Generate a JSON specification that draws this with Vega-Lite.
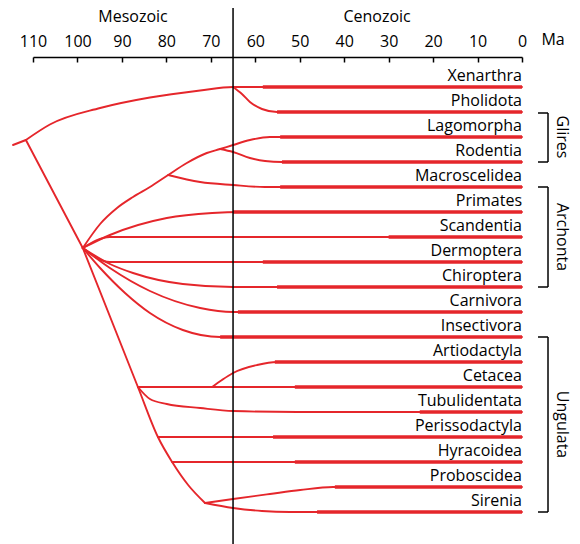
{
  "$schema": "https://vega.github.io/schema/vega-lite/v6.json",
  "width": 489,
  "height": 487,
  "autosize": "none",
  "padding": {"left": 33, "top": 57, "right": 58, "bottom": 0},
  "background": "white",
  "config": {"view": {"stroke": null}, "font": "Open Sans"},
  "datasets": {
    "branches": [
      {"b": "stem", "o": 1, "ma": 114.5, "r": 2.32}, {"b": "stem", "o": 2, "ma": 111.6, "r": 2.12},
      {"b": "xen", "o": 1, "ma": 111.6, "r": 2.12}, {"b": "xen", "o": 2, "ma": 106.2, "r": 1.5}, {"b": "xen", "o": 3, "ma": 94.9, "r": 0.84}, {"b": "xen", "o": 4, "ma": 83.7, "r": 0.42}, {"b": "xen", "o": 5, "ma": 72.4, "r": 0.14}, {"b": "xen", "o": 6, "ma": 65, "r": 0}, {"b": "xen", "o": 7, "ma": 0, "r": 0},
      {"b": "phol", "o": 1, "ma": 65, "r": 0}, {"b": "phol", "o": 2, "ma": 63, "r": 0.28}, {"b": "phol", "o": 3, "ma": 61.2, "r": 0.6}, {"b": "phol", "o": 4, "ma": 58.5, "r": 0.88}, {"b": "phol", "o": 5, "ma": 55.1, "r": 1}, {"b": "phol", "o": 6, "ma": 0, "r": 1},
      {"b": "B", "o": 1, "ma": 111.6, "r": 2.12}, {"b": "B", "o": 2, "ma": 98.8, "r": 6.44},
      {"b": "CD", "o": 1, "ma": 98.8, "r": 6.44}, {"b": "CD", "o": 2, "ma": 86.4, "r": 12}, {"b": "CD", "o": 3, "ma": 81.9, "r": 14}, {"b": "CD", "o": 4, "ma": 78.7, "r": 15}, {"b": "CD", "o": 5, "ma": 75.1, "r": 15.92}, {"b": "CD", "o": 6, "ma": 71.3, "r": 16.64},
      {"b": "cet", "o": 1, "ma": 86.4, "r": 12}, {"b": "cet", "o": 2, "ma": 0, "r": 12},
      {"b": "tub", "o": 1, "ma": 86.4, "r": 12}, {"b": "tub", "o": 2, "ma": 83.7, "r": 12.48}, {"b": "tub", "o": 3, "ma": 79.9, "r": 12.68}, {"b": "tub", "o": 4, "ma": 72.4, "r": 12.84}, {"b": "tub", "o": 5, "ma": 65, "r": 12.96}, {"b": "tub", "o": 6, "ma": 50.6, "r": 13}, {"b": "tub", "o": 7, "ma": 0, "r": 13},
      {"b": "art", "o": 1, "ma": 69.7, "r": 12}, {"b": "art", "o": 2, "ma": 67.5, "r": 11.72}, {"b": "art", "o": 3, "ma": 65, "r": 11.44}, {"b": "art", "o": 4, "ma": 59.6, "r": 11.12}, {"b": "art", "o": 5, "ma": 55.1, "r": 11}, {"b": "art", "o": 6, "ma": 0, "r": 11},
      {"b": "per", "o": 1, "ma": 81.9, "r": 14}, {"b": "per", "o": 2, "ma": 0, "r": 14},
      {"b": "hyr", "o": 1, "ma": 78.7, "r": 15}, {"b": "hyr", "o": 2, "ma": 0, "r": 15},
      {"b": "pro", "o": 1, "ma": 71.3, "r": 16.64}, {"b": "pro", "o": 2, "ma": 65, "r": 16.48}, {"b": "pro", "o": 3, "ma": 56.7, "r": 16.28}, {"b": "pro", "o": 4, "ma": 49.9, "r": 16.12}, {"b": "pro", "o": 5, "ma": 42.5, "r": 16}, {"b": "pro", "o": 6, "ma": 0, "r": 16},
      {"b": "sir", "o": 1, "ma": 71.3, "r": 16.64}, {"b": "sir", "o": 2, "ma": 65, "r": 16.84}, {"b": "sir", "o": 3, "ma": 58.5, "r": 16.96}, {"b": "sir", "o": 4, "ma": 52.2, "r": 17}, {"b": "sir", "o": 5, "ma": 0, "r": 17},
      {"b": "ins", "o": 1, "ma": 98.8, "r": 6.44}, {"b": "ins", "o": 2, "ma": 94.9, "r": 7.24}, {"b": "ins", "o": 3, "ma": 89.3, "r": 8.24}, {"b": "ins", "o": 4, "ma": 83.7, "r": 9.04}, {"b": "ins", "o": 5, "ma": 76.3, "r": 9.72}, {"b": "ins", "o": 6, "ma": 67.9, "r": 10}, {"b": "ins", "o": 7, "ma": 0, "r": 10},
      {"b": "car", "o": 1, "ma": 98.8, "r": 6.44}, {"b": "car", "o": 2, "ma": 92.7, "r": 7.24}, {"b": "car", "o": 3, "ma": 83.7, "r": 8.16}, {"b": "car", "o": 4, "ma": 72.4, "r": 8.84}, {"b": "car", "o": 5, "ma": 65, "r": 9}, {"b": "car", "o": 6, "ma": 0, "r": 9},
      {"b": "chi", "o": 1, "ma": 98.8, "r": 6.44}, {"b": "chi", "o": 2, "ma": 92.7, "r": 7.08}, {"b": "chi", "o": 3, "ma": 87.5, "r": 7.44}, {"b": "chi", "o": 4, "ma": 76.3, "r": 7.88}, {"b": "chi", "o": 5, "ma": 65, "r": 8}, {"b": "chi", "o": 6, "ma": 0, "r": 8},
      {"b": "der", "o": 1, "ma": 98.8, "r": 6.44}, {"b": "der", "o": 2, "ma": 92.7, "r": 7}, {"b": "der", "o": 3, "ma": 0, "r": 7},
      {"b": "sca", "o": 1, "ma": 98.8, "r": 6.44}, {"b": "sca", "o": 2, "ma": 92.7, "r": 6}, {"b": "sca", "o": 3, "ma": 0, "r": 6},
      {"b": "pri", "o": 1, "ma": 98.8, "r": 6.44}, {"b": "pri", "o": 2, "ma": 92.7, "r": 5.92}, {"b": "pri", "o": 3, "ma": 79.9, "r": 5.24}, {"b": "pri", "o": 4, "ma": 69.7, "r": 5.04}, {"b": "pri", "o": 5, "ma": 63, "r": 5}, {"b": "pri", "o": 6, "ma": 0, "r": 5},
      {"b": "lag", "o": 1, "ma": 98.8, "r": 6.44}, {"b": "lag", "o": 2, "ma": 94.9, "r": 5.48}, {"b": "lag", "o": 3, "ma": 91.1, "r": 4.84}, {"b": "lag", "o": 4, "ma": 87.5, "r": 4.4}, {"b": "lag", "o": 5, "ma": 83.7, "r": 4}, {"b": "lag", "o": 6, "ma": 79.6, "r": 3.52}, {"b": "lag", "o": 7, "ma": 75.4, "r": 3.04}, {"b": "lag", "o": 8, "ma": 70.9, "r": 2.64}, {"b": "lag", "o": 9, "ma": 67.9, "r": 2.48}, {"b": "lag", "o": 10, "ma": 65, "r": 2.32}, {"b": "lag", "o": 11, "ma": 61.2, "r": 2.12}, {"b": "lag", "o": 12, "ma": 56.7, "r": 2}, {"b": "lag", "o": 13, "ma": 0, "r": 2},
      {"b": "rod", "o": 1, "ma": 67.9, "r": 2.48}, {"b": "rod", "o": 2, "ma": 65, "r": 2.6}, {"b": "rod", "o": 3, "ma": 61.2, "r": 2.84}, {"b": "rod", "o": 4, "ma": 57.8, "r": 2.96}, {"b": "rod", "o": 5, "ma": 54, "r": 3}, {"b": "rod", "o": 6, "ma": 0, "r": 3},
      {"b": "mac", "o": 1, "ma": 79.6, "r": 3.52}, {"b": "mac", "o": 2, "ma": 72.4, "r": 3.8}, {"b": "mac", "o": 3, "ma": 65, "r": 3.92}, {"b": "mac", "o": 4, "ma": 57.8, "r": 4}, {"b": "mac", "o": 5, "ma": 0, "r": 4}
    ],
    "taxa": [
      {"name": "Xenarthra", "r": 0, "ma": 58.3},
      {"name": "Pholidota", "r": 1, "ma": 55.1},
      {"name": "Lagomorpha", "r": 2, "ma": 54.4},
      {"name": "Rodentia", "r": 3, "ma": 54},
      {"name": "Macroscelidea", "r": 4, "ma": 54.4},
      {"name": "Primates", "r": 5, "ma": 65},
      {"name": "Scandentia", "r": 6, "ma": 30},
      {"name": "Dermoptera", "r": 7, "ma": 58.3},
      {"name": "Chiroptera", "r": 8, "ma": 55.1},
      {"name": "Carnivora", "r": 9, "ma": 63.9},
      {"name": "Insectivora", "r": 10, "ma": 67.9},
      {"name": "Artiodactyla", "r": 11, "ma": 55.6},
      {"name": "Cetacea", "r": 12, "ma": 51.1},
      {"name": "Tubulidentata", "r": 13, "ma": 23},
      {"name": "Perissodactyla", "r": 14, "ma": 56},
      {"name": "Hyracoidea", "r": 15, "ma": 51.1},
      {"name": "Proboscidea", "r": 16, "ma": 42.1},
      {"name": "Sirenia", "r": 17, "ma": 46.1}
    ],
    "groups": [
      {"name": "Glires", "top": 1.04, "bottom": 3, "mid": 2},
      {"name": "Archonta", "top": 4, "bottom": 8, "mid": 6},
      {"name": "Ungulata", "top": 10, "bottom": 17, "mid": 13.5}
    ],
    "eras": [
      {"name": "Mesozoic", "ma": 87.5, "r": -2.8},
      {"name": "Cenozoic", "ma": 32.6, "r": -2.8},
      {"name": "Ma", "ma": -7, "r": -1.88}
    ],
    "boundary": [{"ma": 65, "r": -3.16, "r2": 18.28}]
  },
  "layer": [
    {
      "data": {"name": "branches"},
      "mark": {"type": "line", "interpolate": "monotone", "color": "#e5262b", "strokeWidth": 1.9, "strokeCap": "round", "strokeJoin": "round"},
      "encoding": {
        "x": {"field": "ma", "type": "quantitative", "scale": {"domain": [110, 0], "nice": false, "zero": false},
          "axis": {"orient": "top", "values": [110, 100, 90, 80, 70, 60, 50, 40, 30, 20, 10, 0], "format": "d", "title": null, "grid": false,
            "domainColor": "black", "domainWidth": 1.5, "tickColor": "black", "tickWidth": 1.5, "tickSize": -5,
            "labelFontSize": 16, "labelFont": "Open Sans", "labelFontWeight": 500, "labelColor": "black", "labelPadding": 13, "labelOverlap": false, "labelFlush": false, "labelBound": false}},
        "y": {"field": "r", "type": "quantitative", "scale": {"domain": [-1.2, 18.28], "reverse": true, "nice": false, "zero": false}, "axis": null},
        "detail": {"field": "b"},
        "order": {"field": "o", "type": "quantitative"}
      }
    },
    {
      "data": {"name": "taxa"},
      "mark": {"type": "rule", "color": "#e5262b", "strokeWidth": 3.3},
      "encoding": {
        "x": {"field": "ma", "type": "quantitative", "title": null},
        "x2": {"datum": 0},
        "y": {"field": "r", "type": "quantitative", "axis": null}
      }
    },
    {
      "data": {"name": "taxa"},
      "mark": {"type": "text", "align": "right", "baseline": "alphabetic", "dy": -6, "fontSize": 16, "fontWeight": 500, "font": "Open Sans", "color": "black"},
      "encoding": {
        "x": {"datum": 0, "type": "quantitative"},
        "y": {"field": "r", "type": "quantitative", "axis": null},
        "text": {"field": "name"}
      }
    },
    {
      "data": {"name": "boundary"},
      "mark": {"type": "rule", "color": "black", "strokeWidth": 1.5},
      "encoding": {
        "x": {"field": "ma", "type": "quantitative", "title": null},
        "y": {"field": "r", "type": "quantitative", "axis": null},
        "y2": {"field": "r2"}
      }
    },
    {
      "data": {"name": "eras"},
      "mark": {"type": "text", "align": "center", "baseline": "middle", "fontSize": 16, "fontWeight": 500, "font": "Open Sans", "color": "black"},
      "encoding": {
        "x": {"field": "ma", "type": "quantitative", "title": null},
        "y": {"field": "r", "type": "quantitative", "axis": null},
        "text": {"field": "name"}
      }
    },
    {
      "data": {"name": "groups"},
      "mark": {"type": "rule", "color": "black", "strokeWidth": 1.5},
      "encoding": {
        "x": {"datum": -5.85, "type": "quantitative"},
        "y": {"field": "top", "type": "quantitative", "axis": null},
        "y2": {"field": "bottom"}
      }
    },
    {
      "data": {"name": "groups"},
      "mark": {"type": "rule", "color": "black", "strokeWidth": 1.5},
      "encoding": {
        "x": {"datum": -3.6, "type": "quantitative"},
        "x2": {"datum": -5.85},
        "y": {"field": "top", "type": "quantitative", "axis": null}
      }
    },
    {
      "data": {"name": "groups"},
      "mark": {"type": "rule", "color": "black", "strokeWidth": 1.5},
      "encoding": {
        "x": {"datum": -3.6, "type": "quantitative"},
        "x2": {"datum": -5.85},
        "y": {"field": "bottom", "type": "quantitative", "axis": null}
      }
    },
    {
      "data": {"name": "groups"},
      "mark": {"type": "text", "align": "center", "baseline": "middle", "angle": 90, "fontSize": 16, "fontWeight": 500, "font": "Open Sans", "color": "black"},
      "encoding": {
        "x": {"datum": -9, "type": "quantitative"},
        "y": {"field": "mid", "type": "quantitative", "axis": null},
        "text": {"field": "name"}
      }
    }
  ]
}
